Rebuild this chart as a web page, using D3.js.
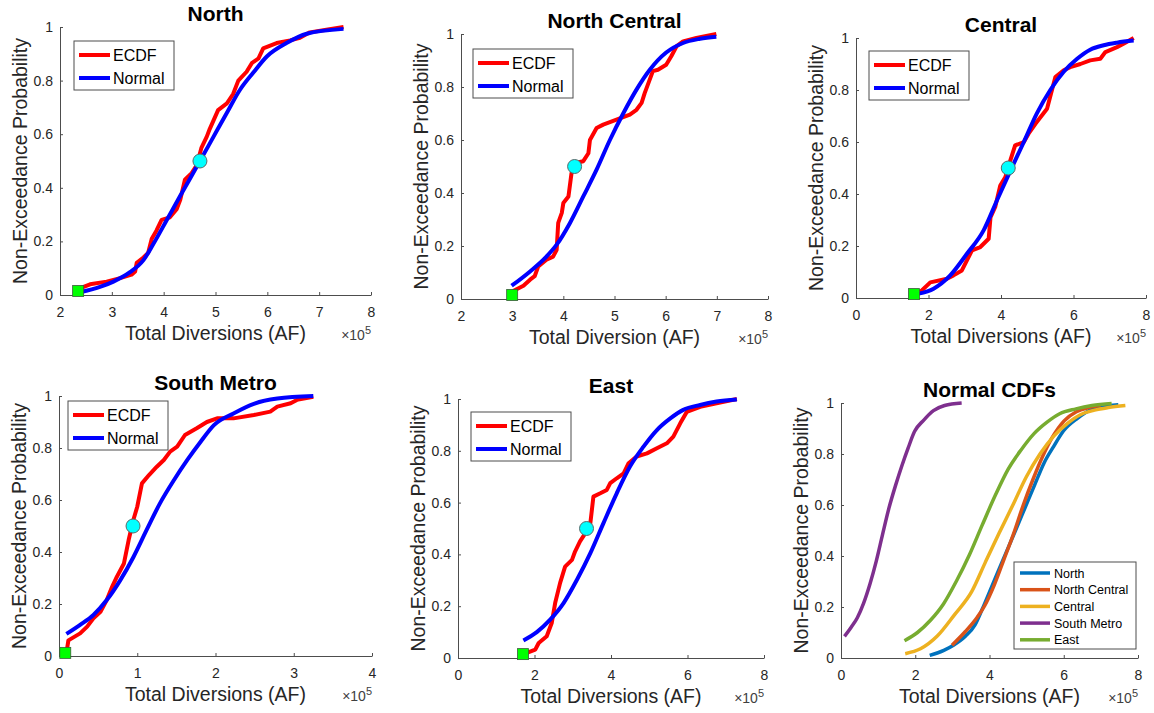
<!DOCTYPE html>
<html>
<head>
<meta charset="utf-8">
<script src="https://cdn.jsdelivr.net/npm/d3@7"></script>
<style>
  body { margin: 0; background: #fff; }
  svg { font-family: "Liberation Sans", Arial, sans-serif; }
  .tick text { fill: #262626; }
  .domain, .tick line { stroke: #4d4d4d; }
</style>
</head>
<body>
<div id="wrapper"></div>
<script>
// values in units of 1e5 AF, [x, probability]
const northEcdf = [[2.32,0.02],[2.58,0.04],[2.9,0.05],[3.16,0.063],[3.38,0.076],[3.45,0.088],[3.48,0.12],[3.61,0.14],[3.7,0.157],[3.77,0.21],[3.86,0.24],[3.96,0.28],[4.12,0.29],[4.25,0.32],[4.32,0.355],[4.41,0.43],[4.54,0.455],[4.64,0.485],[4.73,0.55],[4.83,0.59],[4.89,0.62],[5.05,0.69],[5.22,0.715],[5.34,0.75],[5.44,0.8],[5.6,0.833],[5.7,0.865],[5.83,0.883],[5.92,0.92],[6.18,0.94],[6.44,0.95],[6.63,0.96],[6.82,0.98],[7.14,0.99],[7.47,1.0]]
const northNormal = [[2.39,0.01],[2.77,0.03],[3.03,0.05],[3.35,0.085],[3.61,0.13],[3.8,0.19],[4.06,0.28],[4.32,0.37],[4.7,0.5],[4.96,0.59],[5.22,0.68],[5.47,0.765],[5.73,0.83],[5.99,0.89],[6.37,0.94],[6.76,0.975],[7.47,0.993]]

const northCentralEcdf = [[3.02,0.03],[3.22,0.05],[3.35,0.073],[3.44,0.086],[3.51,0.123],[3.67,0.148],[3.8,0.16],[3.87,0.186],[3.9,0.287],[3.97,0.325],[4.0,0.362],[4.1,0.387],[4.16,0.475],[4.23,0.513],[4.39,0.52],[4.49,0.55],[4.52,0.6],[4.65,0.645],[4.78,0.658],[5.04,0.677],[5.3,0.696],[5.43,0.714],[5.53,0.74],[5.59,0.777],[5.75,0.86],[5.85,0.865],[6.01,0.884],[6.11,0.916],[6.21,0.953],[6.34,0.972],[6.6,0.985],[6.99,1.0]]
const northCentralNormal = [[2.99,0.05],[3.35,0.104],[3.67,0.16],[3.87,0.205],[4.13,0.287],[4.39,0.387],[4.65,0.488],[4.91,0.6],[5.17,0.7],[5.43,0.79],[5.69,0.865],[6.01,0.93],[6.34,0.966],[6.67,0.982],[6.99,0.99]]

const centralEcdf = [[1.77,0.023],[2.05,0.06],[2.51,0.074],[2.69,0.087],[2.92,0.106],[3.06,0.145],[3.2,0.183],[3.43,0.196],[3.66,0.228],[3.71,0.31],[3.84,0.35],[3.98,0.433],[4.12,0.465],[4.26,0.53],[4.39,0.587],[4.63,0.6],[4.76,0.632],[4.95,0.67],[5.27,0.728],[5.5,0.85],[5.73,0.876],[5.91,0.888],[6.19,0.9],[6.46,0.914],[6.74,0.92],[6.88,0.946],[7.2,0.965],[7.38,0.978],[7.66,1.0]]
const centralNormal = [[1.73,0.017],[2.14,0.036],[2.6,0.087],[3.06,0.17],[3.52,0.26],[3.89,0.376],[4.26,0.49],[4.63,0.6],[4.99,0.71],[5.36,0.8],[5.73,0.87],[6.1,0.92],[6.46,0.955],[6.83,0.972],[7.2,0.982],[7.66,0.99]]

const southMetroEcdf = [[0.094,0.01],[0.12,0.06],[0.27,0.087],[0.36,0.113],[0.44,0.145],[0.53,0.17],[0.61,0.215],[0.68,0.267],[0.74,0.305],[0.83,0.356],[0.89,0.446],[0.95,0.523],[1.0,0.574],[1.06,0.664],[1.15,0.696],[1.25,0.728],[1.34,0.754],[1.42,0.786],[1.51,0.805],[1.61,0.85],[1.76,0.876],[1.89,0.9],[2.02,0.914],[2.23,0.914],[2.49,0.927],[2.7,0.94],[2.79,0.959],[2.96,0.972],[3.04,0.985],[3.25,0.997]]
const southMetroNormal = [[0.094,0.085],[0.27,0.12],[0.44,0.158],[0.61,0.215],[0.78,0.29],[0.95,0.38],[1.12,0.485],[1.29,0.587],[1.47,0.677],[1.64,0.754],[1.81,0.824],[1.98,0.888],[2.23,0.933],[2.49,0.97],[2.79,0.99],[3.25,1.0]]

const eastEcdf = [[1.8,0.02],[2.02,0.032],[2.11,0.058],[2.32,0.084],[2.45,0.135],[2.54,0.212],[2.67,0.29],[2.8,0.353],[2.98,0.379],[3.06,0.411],[3.19,0.45],[3.33,0.482],[3.46,0.52],[3.54,0.623],[3.72,0.636],[3.89,0.649],[3.98,0.675],[4.15,0.694],[4.33,0.713],[4.46,0.752],[4.67,0.778],[4.94,0.79],[5.2,0.81],[5.46,0.829],[5.63,0.855],[5.81,0.906],[5.98,0.95],[6.33,0.97],[6.76,0.983],[7.29,1.0]]
const eastNormal = [[1.71,0.068],[2.06,0.1],[2.41,0.148],[2.76,0.212],[3.11,0.302],[3.46,0.405],[3.8,0.52],[4.15,0.636],[4.5,0.74],[4.85,0.816],[5.2,0.88],[5.55,0.925],[5.89,0.958],[6.33,0.977],[6.76,0.99],[7.29,0.998]]

// green square = minimum, cyan circle = median
const minPoints = [[2.35,0.015],[3.0,0.015],[1.6,0.015],[0.08,0.012],[1.7,0.015]]
const medianPoints = [[4.7,0.5],[4.22,0.5],[4.2,0.5],[0.946,0.5],[3.36,0.5]]

const titles = ["North","North Central","Central","South Metro","East","Normal CDFs"]
const xLabels = ["Total Diversions (AF)","Total Diversion (AF)","Total Diversions (AF)","Total Diversions (AF)","Total Diversions (AF)","Total Diversions (AF)"]
const xDomains = [[2,8],[2,8],[0,8],[0,4],[0,8],[0,8]]
const xTicks = [[2,3,4,5,6,7,8],[2,3,4,5,6,7,8],[0,2,4,6,8],[0,1,2,3,4],[0,2,4,6,8],[0,2,4,6,8]]
const yTicks = [0,0.2,0.4,0.6,0.8,1]
const seriesNames = ["ECDF","Normal"]
const cdfColors = ["#0072BD","#D95319","#EDB120","#7E2F8E","#77AC30"]

const ecdfs = [northEcdf, northCentralEcdf, centralEcdf, southMetroEcdf, eastEcdf]
const normals = [northNormal, northCentralNormal, centralNormal, southMetroNormal, eastNormal]

// panel frames (px): left, right, top, bottom
const frames = [
  [60, 371, 27, 295],
  [461, 768, 34, 299],
  [856, 1146, 38, 298],
  [59, 372, 396, 656],
  [458, 764, 399, 658],
  [841, 1138, 403, 658],
]
const legendOffsets = [[14,14],[12,15],[13,13],[9,5],[13,13]]
const fontStack = "Liberation Sans, Arial, sans-serif"

const svg = d3.select("#wrapper").append("svg")
  .attr("width", 1154)
  .attr("height", 713)

frames.forEach((f, i) => {
  const [l, r, t, b] = f
  const g = svg.append("g").attr("transform", `translate(${l},${t})`)
  const w = r - l, h = b - t

  const xScale = d3.scaleLinear().domain(xDomains[i]).range([0, w])
  const yScale = d3.scaleLinear().domain([0, 1]).range([h, 0])

  // axes, ticks pointing inward like matlab
  const xAxis = g.append("g")
    .attr("transform", `translate(0,${h})`)
    .call(d3.axisBottom(xScale).tickValues(xTicks[i]).tickSizeInner(-3).tickSizeOuter(0).tickFormat(d3.format("d")).tickPadding(8))
    .attr("font-size", 14)
    .attr("font-family", fontStack)
  const yAxis = g.append("g")
    .call(d3.axisLeft(yScale).tickValues(yTicks).tickSizeInner(-3).tickSizeOuter(0).tickFormat(d => d === 0 || d === 1 ? d : d3.format(".1f")(d)).tickPadding(7))
    .attr("font-size", 14)
    .attr("font-family", fontStack)
  xAxis.selectAll(".tick text").attr("dy", "1em")

  const line = d3.line()
    .x(d => xScale(d[0]))
    .y(d => yScale(d[1]))

  if (i < 5) {
    g.append("path")
      .attr("d", line(ecdfs[i]))
      .attr("fill", "none")
      .attr("stroke", "#ff0000")
      .attr("stroke-width", 4)
      .attr("stroke-linejoin", "round")
    g.append("path")
      .attr("d", line.curve(d3.curveMonotoneX)(normals[i]))
      .attr("fill", "none")
      .attr("stroke", "#0000ff")
      .attr("stroke-width", 4)
    line.curve(d3.curveLinear)

    const sq = 11
    g.append("rect")
      .attr("x", xScale(minPoints[i][0]) - sq / 2)
      .attr("y", yScale(minPoints[i][1]) - sq / 2)
      .attr("width", sq)
      .attr("height", sq)
      .attr("fill", "#00ff00")
      .attr("stroke", "#3a5a3a")
      .attr("stroke-width", 0.8)
    g.append("circle")
      .attr("cx", xScale(medianPoints[i][0]))
      .attr("cy", yScale(medianPoints[i][1]))
      .attr("r", 7)
      .attr("fill", "#00ffff")
      .attr("stroke", "#5a6a6a")
      .attr("stroke-width", 1)

    // legend
    const [ox, oy] = legendOffsets[i]
    const lg = g.append("g").attr("transform", `translate(${ox},${oy})`)
    lg.append("rect")
      .attr("width", 100).attr("height", 49)
      .attr("fill", "#fff").attr("stroke", "#4d4d4d").attr("stroke-width", 1)
    seriesNames.forEach((name, k) => {
      const yy = 14 + k * 23
      lg.append("line")
        .attr("x1", 5).attr("x2", 36).attr("y1", yy).attr("y2", yy)
        .attr("stroke", k === 0 ? "#ff0000" : "#0000ff").attr("stroke-width", 4)
      lg.append("text")
        .attr("x", 39).attr("y", yy + 5.5)
        .attr("fill", "#000").style("font-size", "16px")
        .text(name)
    })
  } else {
    normals.forEach((d, k) => {
      g.append("path")
        .attr("d", d3.line().x(p => xScale(p[0])).y(p => yScale(p[1])).curve(d3.curveMonotoneX)(d))
        .attr("fill", "none")
        .attr("stroke", cdfColors[k])
        .attr("stroke-width", 3.5)
    })
    const lw = 122, lh = 87
    const lg = g.append("g").attr("transform", `translate(${w - lw - 2},${h - lh - 9})`)
    lg.append("rect")
      .attr("width", lw).attr("height", lh)
      .attr("fill", "#fff").attr("stroke", "#4d4d4d").attr("stroke-width", 1)
    titles.slice(0, 5).forEach((name, k) => {
      const yy = 11 + k * 16.7
      lg.append("line")
        .attr("x1", 6).attr("x2", 36).attr("y1", yy).attr("y2", yy)
        .attr("stroke", cdfColors[k]).attr("stroke-width", 3.5)
      lg.append("text")
        .attr("x", 40).attr("y", yy + 4.5)
        .attr("fill", "#000").style("font-size", "12.5px")
        .text(name)
    })
  }

  // title
  g.append("text")
    .attr("x", w / 2).attr("y", -6)
    .attr("text-anchor", "middle")
    .style("font-size", "21px").style("font-weight", "bold")
    .attr("fill", "#000")
    .text(titles[i])

  // axis labels
  g.append("text")
    .attr("x", w / 2).attr("y", h + 45)
    .attr("text-anchor", "middle")
    .style("font-size", "19.5px")
    .attr("fill", "#262626")
    .text(xLabels[i])
  g.append("text")
    .attr("transform", `translate(-33,${h / 2}) rotate(-90)`)
    .attr("text-anchor", "middle")
    .style("font-size", "19.5px")
    .attr("fill", "#262626")
    .text("Non-Exceedance Probability")

  const mult = g.append("text")
    .attr("x", w).attr("y", h + 45)
    .attr("text-anchor", "end")
    .style("font-size", "14px")
    .attr("fill", "#404040")
  mult.append("tspan").text("\u00d710")
  mult.append("tspan").attr("dy", -6).style("font-size", "11px").text("5")
})
</script>
</body>
</html>
